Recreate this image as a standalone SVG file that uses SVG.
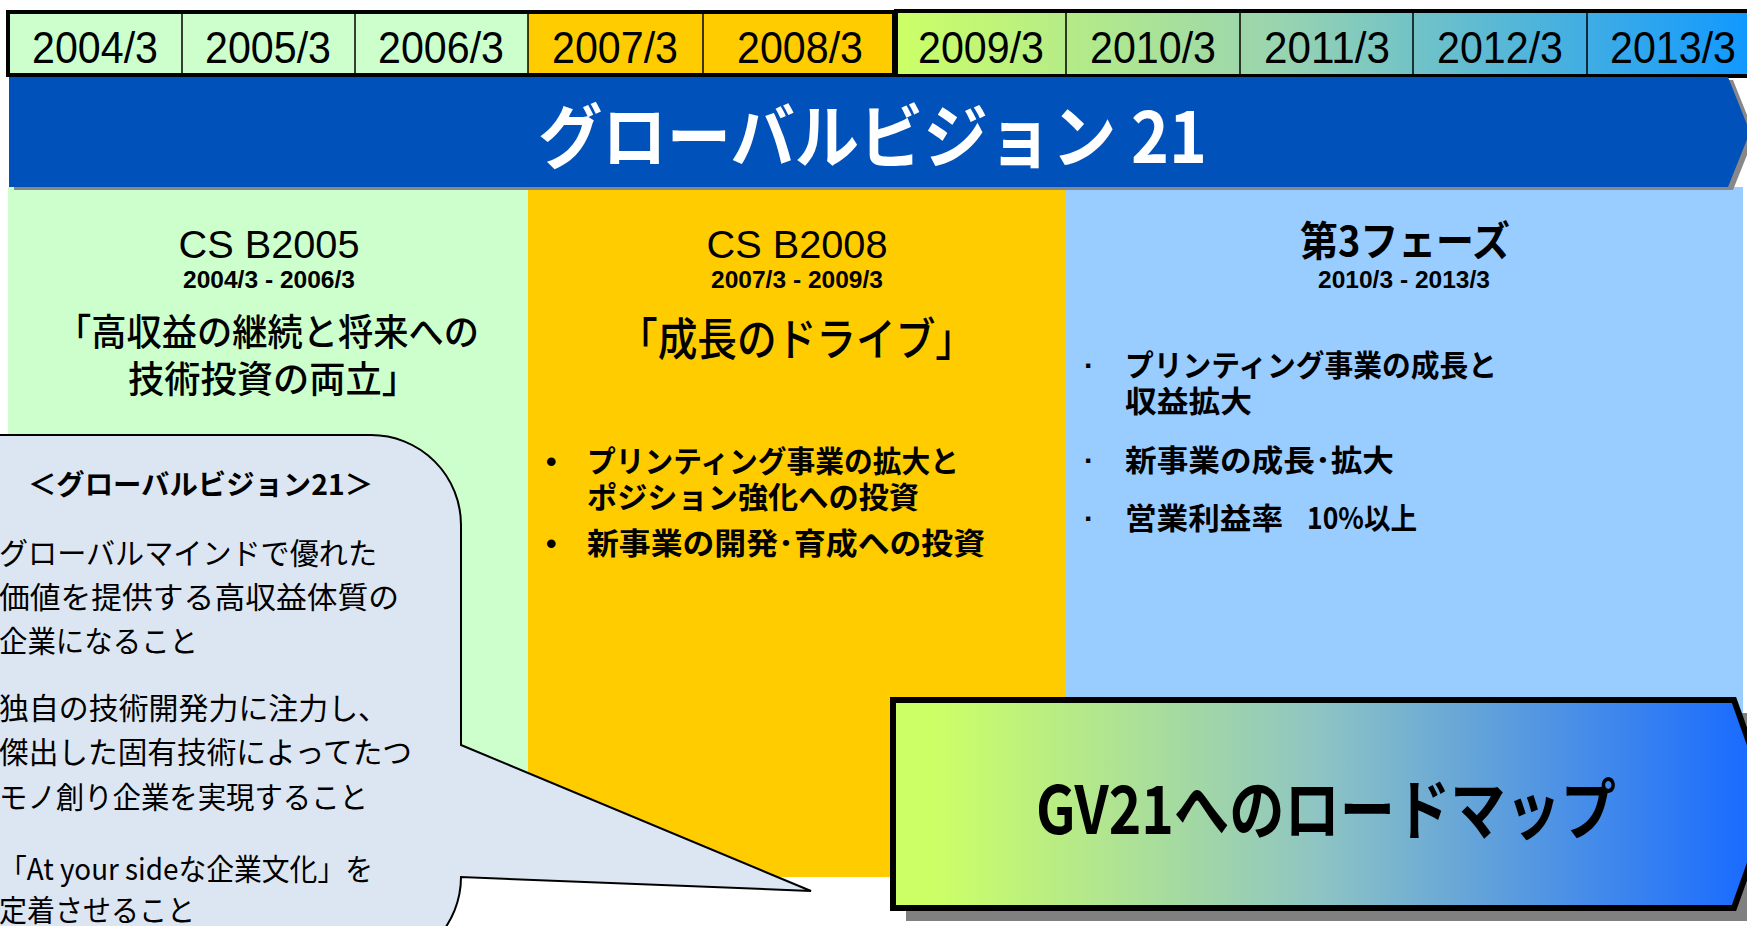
<svg xmlns="http://www.w3.org/2000/svg" width="1747" height="926" viewBox="0 0 1747 926">
<defs>
  <linearGradient id="barGrad" gradientUnits="userSpaceOnUse" x1="896" y1="0" x2="1747" y2="0">
    <stop offset="0" stop-color="#CCFF66"/>
    <stop offset="0.45" stop-color="#99D4B0"/>
    <stop offset="1" stop-color="#1199FF"/>
  </linearGradient>
  <linearGradient id="gvGrad" gradientUnits="userSpaceOnUse" x1="893" y1="0" x2="1747" y2="0">
    <stop offset="0.05" stop-color="#CCFF66"/>
    <stop offset="0.5" stop-color="#8EC4C4"/>
    <stop offset="1" stop-color="#1A6BFF"/>
  </linearGradient>
  <style>
    .yr{font-family:"Liberation Sans",Arial,sans-serif;font-size:45px;fill:#000;text-anchor:middle}
    .div{stroke:#000;stroke-width:1.5}
    .jp{font-family:"Noto Sans CJK JP",sans-serif;fill:#000}
    .b{font-weight:bold}
    .m{font-weight:500}
    .cs{font-family:"Liberation Sans",Arial,sans-serif;font-size:38px;text-anchor:middle;fill:#000}
    .dt{font-family:"Liberation Sans",Arial,sans-serif;font-size:23px;font-weight:bold;text-anchor:middle;fill:#000}
    .bul{font-family:"Noto Sans CJK JP",sans-serif;font-size:30px;font-weight:bold;fill:#000}
    .dot{font-family:"Liberation Sans",Arial,sans-serif;font-size:30px;font-weight:bold;fill:#000}
    .co{font-family:"Noto Sans CJK JP",sans-serif;font-size:30px;fill:#000}
  </style>
</defs>
<rect width="1747" height="926" fill="#FFFFFF"/>

<g id="panels">
  <rect id="panel-green" x="8" y="187" width="520" height="690" fill="#CCFFCC"/>
  <rect id="panel-orange" x="528" y="187" width="538" height="690" fill="#FFCC00"/>
  <rect id="panel-blue" x="1066" y="187" width="677" height="690" fill="#99CCFF"/>
</g>

<g id="timeline">
  <rect x="8" y="12" width="520" height="63" fill="#CCFFCC"/>
  <rect x="528" y="12" width="366" height="63" fill="#FFCC00"/>
  <rect x="8" y="12" width="886" height="63" fill="none" stroke="#000" stroke-width="4"/>
  <rect x="896" y="11" width="880" height="65" fill="url(#barGrad)" stroke="#000" stroke-width="4"/>
  <line class="div" x1="182" y1="13" x2="182" y2="74"/>
  <line class="div" x1="355" y1="13" x2="355" y2="74"/>
  <line class="div" x1="528" y1="13" x2="528" y2="74"/>
  <line class="div" x1="703" y1="13" x2="703" y2="74"/>
  <line class="div" x1="1066" y1="13" x2="1066" y2="74"/>
  <line class="div" x1="1240" y1="13" x2="1240" y2="74"/>
  <line class="div" x1="1413" y1="13" x2="1413" y2="74"/>
  <line class="div" x1="1587" y1="13" x2="1587" y2="74"/>
  <text class="yr" x="95" y="63" textLength="126" lengthAdjust="spacingAndGlyphs">2004/3</text>
  <text class="yr" x="268" y="63" textLength="126" lengthAdjust="spacingAndGlyphs">2005/3</text>
  <text class="yr" x="441" y="63" textLength="126" lengthAdjust="spacingAndGlyphs">2006/3</text>
  <text class="yr" x="615" y="63" textLength="126" lengthAdjust="spacingAndGlyphs">2007/3</text>
  <text class="yr" x="800" y="63" textLength="126" lengthAdjust="spacingAndGlyphs">2008/3</text>
  <text class="yr" x="981" y="63" textLength="126" lengthAdjust="spacingAndGlyphs">2009/3</text>
  <text class="yr" x="1153" y="63" textLength="126" lengthAdjust="spacingAndGlyphs">2010/3</text>
  <text class="yr" x="1327" y="63" textLength="126" lengthAdjust="spacingAndGlyphs">2011/3</text>
  <text class="yr" x="1500" y="63" textLength="126" lengthAdjust="spacingAndGlyphs">2012/3</text>
  <text class="yr" x="1673" y="63" textLength="126" lengthAdjust="spacingAndGlyphs">2013/3</text>
</g>

<g id="title-band">
  <polygon points="14,80 1733,80 1755,135 1733,190 14,190" fill="#888888"/>
  <polygon points="9,77 1728,77 1750,132 1728,187 9,187" fill="#0051BA"/>
  <text class="jp b" x="538" y="163" font-size="70" style="fill:#FFFFFF" textLength="669" lengthAdjust="spacingAndGlyphs">グローバルビジョン 21</text>
</g>

<g id="phase1">
  <text class="cs" x="269" y="258" textLength="181" lengthAdjust="spacingAndGlyphs">CS B2005</text>
  <text class="dt" x="269" y="288" textLength="172" lengthAdjust="spacingAndGlyphs">2004/3 - 2006/3</text>
  <text class="jp m" x="56" y="346" font-size="37" textLength="423" lengthAdjust="spacingAndGlyphs">「高収益の継続と将来への</text>
  <text class="jp m" x="128" y="393" font-size="37" textLength="290" lengthAdjust="spacingAndGlyphs">技術投資の両立」</text>
</g>

<g id="phase2">
  <text class="cs" x="797" y="258" textLength="181" lengthAdjust="spacingAndGlyphs">CS B2008</text>
  <text class="dt" x="797" y="288" textLength="172" lengthAdjust="spacingAndGlyphs">2007/3 - 2009/3</text>
  <text class="jp m" x="618" y="356" font-size="45" textLength="357" lengthAdjust="spacingAndGlyphs">「成長のドライブ」</text>
  <text class="dot" x="546" y="472">•</text>
  <text class="bul" x="587" y="472" textLength="372" lengthAdjust="spacingAndGlyphs">プリンティング事業の拡大と</text>
  <text class="bul" x="587" y="508" textLength="332" lengthAdjust="spacingAndGlyphs">ポジション強化への投資</text>
  <text class="dot" x="546" y="554">•</text>
  <text class="bul" x="587" y="554" textLength="398" lengthAdjust="spacingAndGlyphs">新事業の開発･育成への投資</text>
</g>

<g id="phase3">
  <text class="jp b" x="1300" y="256" font-size="41" textLength="210" lengthAdjust="spacingAndGlyphs">第3フェーズ</text>
  <text class="dt" x="1404" y="288" textLength="172" lengthAdjust="spacingAndGlyphs">2010/3 - 2013/3</text>
  <text class="dot" x="1084" y="376">·</text>
  <text class="bul" x="1125" y="376" textLength="372" lengthAdjust="spacingAndGlyphs">プリンティング事業の成長と</text>
  <text class="bul" x="1125" y="412" textLength="127" lengthAdjust="spacingAndGlyphs">収益拡大</text>
  <text class="dot" x="1084" y="471">·</text>
  <text class="bul" x="1125" y="471" textLength="269" lengthAdjust="spacingAndGlyphs">新事業の成長･拡大</text>
  <text class="dot" x="1084" y="529">·</text>
  <text class="bul" y="529"><tspan x="1125" textLength="158" lengthAdjust="spacingAndGlyphs">営業利益率</tspan><tspan x="1307" textLength="110" lengthAdjust="spacingAndGlyphs">10%以上</tspan></text>
</g>

<g id="callout">
  <path d="M -100 435 H 371 A 90 90 0 0 1 461 525 V 745 L 811 891 L 461 877 A 90 90 0 0 1 371 967 H -100 Z" fill="#DCE6F2" stroke="#000" stroke-width="2" stroke-linejoin="miter"/>
  <text class="jp b" x="28" y="495" font-size="28" textLength="345" lengthAdjust="spacingAndGlyphs">＜グローバルビジョン21＞</text>
  <text class="co" x="-1" y="564" textLength="378" lengthAdjust="spacingAndGlyphs">グローバルマインドで優れた</text>
  <text class="co" x="-1" y="608" textLength="400" lengthAdjust="spacingAndGlyphs">価値を提供する高収益体質の</text>
  <text class="co" x="-1" y="652" textLength="199" lengthAdjust="spacingAndGlyphs">企業になること</text>
  <text class="co" x="-1" y="719" textLength="389" lengthAdjust="spacingAndGlyphs">独自の技術開発力に注力し、</text>
  <text class="co" x="-1" y="763" textLength="413" lengthAdjust="spacingAndGlyphs">傑出した固有技術によってたつ</text>
  <text class="co" x="-1" y="808" textLength="369" lengthAdjust="spacingAndGlyphs">モノ創り企業を実現すること</text>
  <text class="co" x="-1" y="880" textLength="374" lengthAdjust="spacingAndGlyphs">「At your sideな企業文化」を</text>
  <text class="co" x="-1" y="921" textLength="196" lengthAdjust="spacingAndGlyphs">定着させること</text>
</g>

<g id="roadmap">
  <polygon points="906,713 1747,713 1784,818 1747,921 906,921" fill="#808080"/>
  <polygon points="893,700 1734,700 1771,804 1734,908 893,908" fill="url(#gvGrad)" stroke="#000" stroke-width="6" stroke-linejoin="miter"/>
  <text class="jp b" x="1036" y="834" font-size="66" textLength="580" lengthAdjust="spacingAndGlyphs">GV21へのロードマップ</text>
</g>
</svg>
